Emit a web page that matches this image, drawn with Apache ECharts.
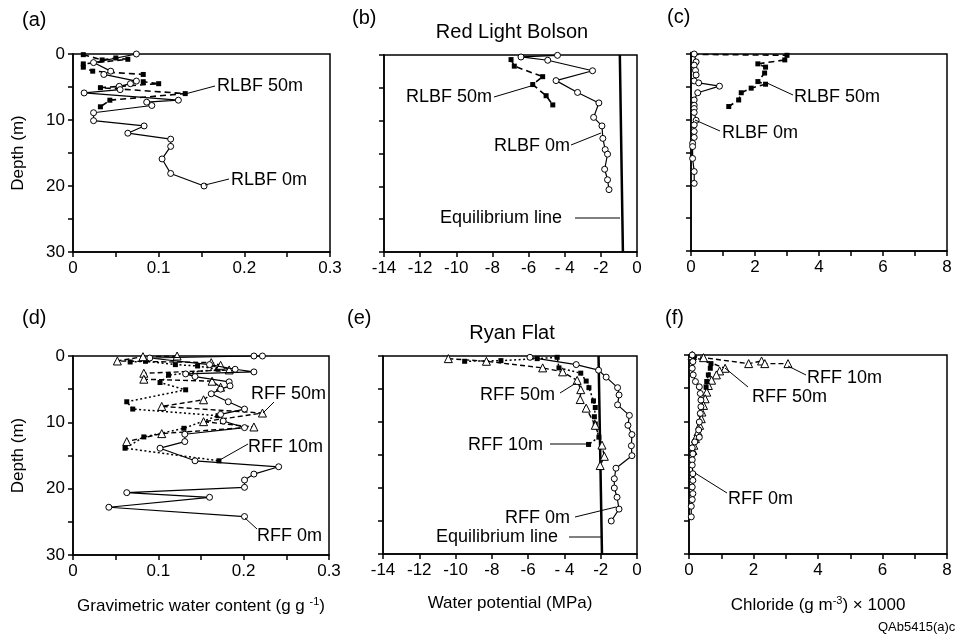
<!DOCTYPE html>
<html>
<head>
<meta charset="utf-8">
<script src="https://cdn.jsdelivr.net/npm/echarts@6/dist/echarts.min.js"></script>
<style>html,body{margin:0;padding:0;background:#fff}#c{width:957px;height:635px}</style>
</head>
<body>
<div id="c"></div>
<script>
// ---------- DATA (x value, depth m) ----------
// (a) Red Light Bolson, gravimetric water content (g/g)
const rlbf0Theta = [[0.074,0],[0.024,1.3],[0.044,2.6],[0.036,3.1],[0.074,4.1],[0.067,4.5],[0.054,4.9],[0.055,5.4],[0.013,5.9],[0.123,7.0],[0.086,7.3],[0.092,7.8],[0.024,8.9],[0.024,10.1],[0.083,10.9],[0.064,12.0],[0.114,12.9],[0.114,14.0],[0.104,15.9],[0.114,18.1],[0.153,20.0]];
const rlbf50Theta = [[0.012,0.1],[0.034,0.9],[0.05,0.6],[0.064,0.8],[0.012,1.5],[0.012,2.0],[0.023,2.6],[0.082,3.1],[0.082,4.2],[0.1,4.5],[0.032,5.1],[0.131,6.0],[0.043,7.0],[0.032,8.0]];
// (b) Red Light Bolson, water potential (MPa)
const rlbf0Psi = [[-4.4,0.05],[-6.42,0.3],[-4.94,0.8],[-2.46,2.4],[-4.48,3.9],[-3.29,5.7],[-2.11,7.3],[-2.4,9.5],[-1.94,10.8],[-1.89,12.7],[-1.76,14.4],[-1.63,15.1],[-1.79,17.4],[-1.63,19.0],[-1.55,20.5]];
const rlbf50Psi = [[-6.97,0.7],[-6.79,1.7],[-5.22,3.3],[-5.77,4.5],[-5.03,6.2],[-4.66,7.6]];
const rlbfEquilibrium = [[-0.95,0],[-0.78,30]];
// (c) Red Light Bolson, chloride (g m-3 x 1000)
const rlbf0Cl = [[0.1,0],[0.16,1.2],[0.1,1.7],[0.14,2.5],[0.16,3.2],[0.1,4.1],[0.24,4.4],[0.89,4.9],[0.21,5.9],[0.1,7.0],[0.1,7.8],[0.1,8.3],[0.1,8.9],[0.16,10.1],[0.1,10.8],[0.1,11.8],[0.1,12.7],[0.05,13.6],[0.05,14.1],[0.05,15.9],[0.1,17.9],[0.1,19.7]];
const rlbf50Cl = [[0.05,0.05],[3.0,0.2],[2.93,0.9],[2.09,1.5],[2.33,2.0],[2.3,2.9],[2.09,4.2],[2.33,4.6],[1.88,5.2],[1.57,5.9],[1.49,7.0],[1.18,8.0]];
// (d) Ryan Flat, gravimetric water content
const rff0Theta = [[0.222,0],[0.212,0],[0.09,0.3],[0.16,1.3],[0.19,2.0],[0.212,2.4],[0.132,2.7],[0.143,3.1],[0.183,3.9],[0.184,4.5],[0.173,5.0],[0.162,5.7],[0.182,6.9],[0.201,8.0],[0.173,8.8],[0.176,9.8],[0.201,10.8],[0.131,11.8],[0.131,12.9],[0.102,13.9],[0.143,15.8],[0.241,16.7],[0.212,17.8],[0.201,18.7],[0.201,19.8],[0.063,20.6],[0.16,21.3],[0.042,22.8],[0.201,24.2]];
const rff10Theta = [[0.067,0.9],[0.085,0.8],[0.12,1.3],[0.146,1.5],[0.17,2.0],[0.112,2.9],[0.102,4.0],[0.132,5.1],[0.063,6.9],[0.07,8.0],[0.17,9.0],[0.13,10.9],[0.083,12.2],[0.061,13.9],[0.171,15.8]];
const rff50Theta = [[0.122,0],[0.082,0.1],[0.052,0.75],[0.162,1.0],[0.173,1.4],[0.183,2.1],[0.083,2.6],[0.083,3.5],[0.163,3.8],[0.173,4.7],[0.153,6.6],[0.104,7.6],[0.222,8.6],[0.153,9.9],[0.212,10.7],[0.104,11.7],[0.063,12.9]];
// (e) Ryan Flat, water potential
const rff0Psi = [[-5.9,0.2],[-3.35,1.3],[-2.12,2.15],[-1.7,3.2],[-1.07,4.8],[-0.99,5.9],[-1.07,7.4],[-0.42,9.0],[-0.5,10.5],[-0.28,11.9],[-0.31,13.6],[-0.28,15.1],[-1.16,17.0],[-1.25,18.6],[-1.25,20.0],[-1.1,21.4],[-0.99,23.2],[-1.42,25.0]];
const rff10Psi = [[-9.5,0.8],[-7.5,0.7],[-5.5,0.4],[-4.4,0.2],[-4.3,1.8],[-3.1,2.6],[-2.8,3.8],[-2.65,4.8],[-2.4,6.8],[-2.3,7.8],[-2.35,9.2],[-2.3,10.3],[-2.1,12.3],[-2.67,13.4]];
const rff50Psi = [[-10.4,0.4],[-8.3,0.8],[-5.2,1.8],[-4.1,2.4],[-3.3,3.7],[-3.1,5.1],[-3.13,6.6],[-2.8,7.9],[-2.3,10.5],[-1.93,13.5],[-1.8,15.2],[-2.03,16.6]];
const rffEquilibrium = [[-2.12,0],[-1.93,30]];
// (f) Ryan Flat, chloride
const rff0Cl = [[0.1,0],[0.12,1.0],[0.1,2.0],[0.13,3.0],[0.2,4.0],[0.32,4.8],[0.35,5.8],[0.37,6.8],[0.37,7.8],[0.35,8.8],[0.32,10.1],[0.3,11.3],[0.32,12.4],[0.18,13.1],[0.1,14.0],[0.12,14.9],[0.1,15.8],[0.1,16.6],[0.12,17.9],[0.12,18.9],[0.1,19.9],[0.12,20.9],[0.1,21.8],[0.07,22.8],[0.07,24.4]];
const rff10Cl = [[0.1,0.1],[0.45,0.4],[1.85,1.3],[2.25,0.9],[2.35,1.3],[3.07,1.3]];
const rff50Cl = [[0.1,0.1],[1.12,2.0],[0.95,2.4],[0.85,3.0],[0.7,3.8],[0.6,4.6],[0.55,5.6],[0.5,6.6],[0.45,7.6],[0.4,8.6],[0.38,9.6],[0.33,10.6],[0.28,11.6],[0.2,12.6],[0.15,13.6],[0.12,14.4]];
const rffSquaresCl = [[0.15,0.3],[0.68,1.3],[0.66,2.0],[0.6,3.0],[0.55,4.0],[0.53,4.8]];

// axis tick labels
const thetaTicks = ['0','0.1','0.2','0.3'];
const psiTicks = ['-14','-12','-10','-8','-6','- 4','-2','0'];
const clTicks = ['0','2','4','6','8'];
const depthTicks = ['0','10','20','30'];

// ---------- STYLES ----------
const FF = '"Liberation Sans", Arial, Helvetica, sans-serif';
const openCircle = {type:'line', symbol:'circle', symbolSize:6, showAllSymbol:true,
  itemStyle:{color:'#fff', borderColor:'#000', borderWidth:1},
  lineStyle:{color:'#000', width:1.2, type:'solid'}, z:4};
const dashSquare = {type:'line', symbol:'rect', symbolSize:5, showAllSymbol:true,
  itemStyle:{color:'#000'}, lineStyle:{color:'#000', width:1.6, type:[6,4]}, z:3};
const dotSquare = {type:'line', symbol:'rect', symbolSize:5, showAllSymbol:true,
  itemStyle:{color:'#000'}, lineStyle:{color:'#000', width:1.5, type:[2,2.5]}, z:3};
const dashTri = {type:'line', symbol:'triangle', symbolSize:8, showAllSymbol:true,
  itemStyle:{color:'#fff', borderColor:'#000', borderWidth:1},
  lineStyle:{color:'#000', width:1.4, type:[5,3]}, z:3};
const eqLine = {type:'line', symbol:'none', lineStyle:{color:'#000', width:2.5}, z:2};

function s(base, gi, data){ return Object.assign({}, base, {xAxisIndex:gi, yAxisIndex:gi, data:data, animation:false}); }

const grids = [
  {left:73, top:54, width:257, height:198},
  {left:384, top:55, width:253, height:197},
  {left:691, top:54, width:256, height:197},
  {left:73, top:356, width:256, height:199},
  {left:383, top:356, width:254, height:198},
  {left:689, top:355, width:258, height:199}
].map(g => Object.assign(g, {show:true, borderColor:'#000', borderWidth:1.5, backgroundColor:'transparent'}));

const axLine = {show:true, onZero:false, lineStyle:{color:'#000', width:1.5}};
const axTick = {show:true, length:5, lineStyle:{color:'#000', width:1.5}};
const lblBase = {color:'#000', fontSize:17, fontFamily:FF, margin:8};

function thetaFmt(v){ const k = Math.round(v*20); return k%2===0 ? thetaTicks[k/2] : ''; }
function psiFmt(v){ const k = Math.round(v); return k%2===0 ? psiTicks[(k+14)/2] : ''; }
function clFmt(v){ const k = Math.round(v); return k%2===0 ? clTicks[k/2] : ''; }
function depthFmt(v){ const k = Math.round(v); return k%10===0 ? depthTicks[k/10] : ''; }

const nameStyle = {color:'#000', fontSize:17, fontFamily:FF,
  rich:{sup:{fontSize:11, fontFamily:FF, color:'#000', padding:[0,0,9,0]}}};

function xAx(gi, kind, name){
  const o = {gridIndex:gi, type:'value', axisLine:axLine, axisTick:axTick, splitLine:{show:false}};
  if(kind==='theta'){ Object.assign(o,{min:0,max:0.3,interval:0.05, axisLabel:Object.assign({formatter:thetaFmt},lblBase)}); }
  if(kind==='psi'){ Object.assign(o,{min:-14,max:0,interval:2, axisLabel:Object.assign({formatter:psiFmt},lblBase)}); }
  if(kind==='cl'){ Object.assign(o,{min:0,max:8,interval:1, axisLabel:Object.assign({formatter:clFmt},lblBase)}); }
  if(name){ Object.assign(o,{name:name, nameLocation:'middle', nameGap:41, nameTextStyle:nameStyle}); }
  return o;
}
function yAx(gi, labels){
  const o = {gridIndex:gi, type:'value', inverse:true, min:0, max:30, interval:5,
    axisLine:axLine, axisTick:axTick, splitLine:{show:false},
    axisLabel:Object.assign({show:labels, formatter:depthFmt}, lblBase)};
  if(labels){ Object.assign(o,{name:'Depth (m)', nameLocation:'middle', nameGap:46, nameRotate:90,
    nameTextStyle:{color:'#000', fontSize:17, fontFamily:FF}}); }
  return o;
}

// ---------- ANNOTATIONS ----------
function txt(x, y, t, size, align){ return {type:'text', x:x, y:y, z:10, style:{text:t, fill:'#000', font:(size||18)+'px '+FF, align:align||'left', verticalAlign:'middle'}}; }
function ln(x1,y1,x2,y2){ return {type:'line', z:10, shape:{x1:x1,y1:y1,x2:x2,y2:y2}, style:{stroke:'#000', lineWidth:1}}; }

const graphics = [
  txt(22,20,'(a)',20), txt(352,18,'(b)',20), txt(667,17,'(c)',20),
  txt(22,318,'(d)',20), txt(347,318,'(e)',20), txt(665,318,'(f)',20),
  txt(512,32,'Red Light Bolson',20,'center'), txt(512,333,'Ryan Flat',20,'center'),
  // (a)
  txt(217,86,'RLBF 50m'), ln(185,94,215,86),
  txt(231,180,'RLBF 0m'), ln(205,185,229,179),
  // (b)
  txt(406,97,'RLBF 50m'), ln(494,97,531,86),
  txt(494,146,'RLBF 0m'), ln(571,145,601,133),
  txt(440,218,'Equilibrium line'), ln(575,218,620,218),
  // (c)
  txt(794,97,'RLBF 50m'), ln(767,83,793,95),
  txt(722,133,'RLBF 0m'), ln(695,120,720,131),
  // (d)
  txt(251,394,'RFF 50m'), ln(263,413,274,402),
  txt(248,447,'RFF 10m'), ln(218,461,248,444),
  txt(257,536,'RFF 0m'), ln(245,518,257,529),
  // (e)
  txt(480,395,'RFF 50m'), ln(560,393,576,383),
  txt(468,445,'RFF 10m'), ln(550,444,587,444),
  txt(505,518,'RFF 0m'), ln(575,517,616,507),
  txt(436,537,'Equilibrium line'), ln(569,537,601,537),
  // (f)
  txt(807,378,'RFF 10m'), ln(788,366,806,375),
  txt(752,397,'RFF 50m'), ln(725,368,748,387),
  txt(728,499,'RFF 0m'), ln(695,473,727,493),
  txt(878,627,'QAb5415(a)c',13)
];

const option = {
  animation:false,
  backgroundColor:'#fff',
  grid: grids,
  xAxis: [
    xAx(0,'theta'), xAx(1,'psi'), xAx(2,'cl'),
    xAx(3,'theta','Gravimetric water content (g g {sup|-1})'),
    xAx(4,'psi','Water potential (MPa)'),
    xAx(5,'cl','Chloride (g m{sup|-3}) \u00d7 1000')
  ],
  yAxis: [yAx(0,true), yAx(1,false), yAx(2,false), yAx(3,true), yAx(4,false), yAx(5,false)],
  series: [
    s(dashSquare,0,rlbf50Theta), s(openCircle,0,rlbf0Theta),
    s(eqLine,1,rlbfEquilibrium), s(dashSquare,1,rlbf50Psi), s(openCircle,1,rlbf0Psi),
    s(dashSquare,2,rlbf50Cl), s(openCircle,2,rlbf0Cl),
    s(dotSquare,3,rff10Theta), s(dashTri,3,rff50Theta), s(openCircle,3,rff0Theta),
    s(eqLine,4,rffEquilibrium), s(dotSquare,4,rff10Psi), s(dashTri,4,rff50Psi), s(openCircle,4,rff0Psi),
    s(dashTri,5,rff10Cl), s(dashTri,5,rff50Cl), s(dotSquare,5,rffSquaresCl), s(openCircle,5,rff0Cl)
  ],
  graphic: graphics
};
const chart = echarts.init(document.getElementById('c'), null, {renderer:'canvas'});
chart.setOption(option);
</script>
</body>
</html>
